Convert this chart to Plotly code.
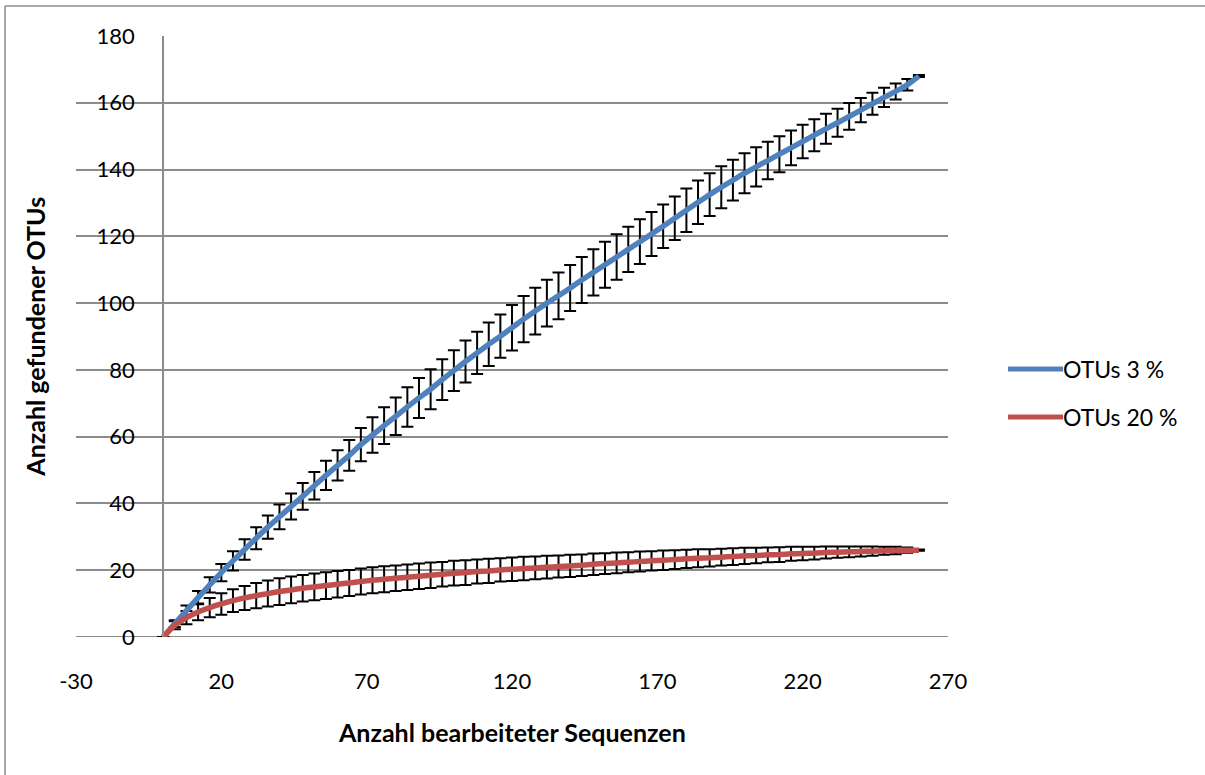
import plotly.graph_objects as go

# Rarefaction: number of processed sequences
sequenzen = list(range(0, 261, 4))

otus_3 = [
    0.0, 4.0, 7.9, 11.8, 15.6, 19.3, 22.8, 26.2, 29.6, 32.9,
    36.0, 39.1, 42.1, 45.3, 48.4, 51.4, 54.4, 57.6, 60.5, 63.3,
    66.1, 68.9, 71.6, 74.2, 77.1, 79.8, 82.5, 85.1, 87.7, 90.1,
    92.6, 95.2, 97.6, 100.0, 102.2, 104.5, 106.9, 109.2, 111.5, 113.8,
    116.1, 118.4, 120.7, 123.0, 125.4, 127.8, 130.2, 132.5, 134.7, 136.8,
    138.9, 140.8, 142.7, 144.6, 146.5, 148.4, 150.3, 152.2, 154.0, 155.9,
    157.8, 159.7, 161.6, 163.4, 165.4, 168.0,
]
fehler_3 = [
    0.0, 1.0, 1.5, 2.0, 2.3, 2.6, 2.9, 3.1, 3.3, 3.5,
    3.7, 3.9, 4.0, 4.1, 4.4, 4.5, 4.6, 5.0, 5.3, 5.5,
    5.6, 5.9, 6.0, 6.0, 6.1, 6.1, 6.3, 6.3, 6.5, 6.5,
    6.8, 6.9, 7.0, 7.0, 7.0, 6.9, 6.9, 6.9, 6.9, 6.8,
    6.8, 6.7, 6.6, 6.5, 6.5, 6.5, 6.5, 6.4, 6.3, 6.1,
    6.0, 5.9, 5.6, 5.4, 5.2, 5.0, 4.8, 4.5, 4.2, 4.0,
    3.6, 3.3, 2.9, 2.4, 1.7, 0.3,
]

otus_20 = [
    0.0, 3.5, 5.8, 7.5, 8.8, 9.9, 10.9, 11.7, 12.4, 13.0,
    13.6, 14.1, 14.6, 15.0, 15.4, 15.8, 16.2, 16.6, 17.0, 17.3,
    17.6, 17.9, 18.2, 18.5, 18.8, 19.1, 19.3, 19.6, 19.8, 20.1,
    20.3, 20.5, 20.7, 20.9, 21.1, 21.3, 21.5, 21.8, 22.0, 22.2,
    22.4, 22.6, 22.8, 23.0, 23.2, 23.4, 23.6, 23.7, 23.9, 24.1,
    24.3, 24.4, 24.6, 24.7, 24.9, 25.0, 25.1, 25.3, 25.4, 25.5,
    25.6, 25.7, 25.8, 25.9, 26.0, 26.0,
]
fehler_20 = [
    0.0, 1.2, 2.0, 2.5, 2.9, 3.2, 3.4, 3.6, 3.8, 3.9,
    4.0, 4.0, 4.0, 4.0, 4.0, 4.0, 3.9, 3.9, 3.9, 3.9,
    3.8, 3.8, 3.8, 3.8, 3.7, 3.7, 3.7, 3.6, 3.6, 3.5,
    3.5, 3.5, 3.4, 3.4, 3.3, 3.3, 3.2, 3.2, 3.1, 3.1,
    3.0, 3.0, 2.9, 2.9, 2.8, 2.7, 2.7, 2.6, 2.5, 2.5,
    2.4, 2.3, 2.2, 2.2, 2.1, 2.0, 1.9, 1.8, 1.7, 1.6,
    1.5, 1.4, 1.2, 1.1, 0.8, 0.2,
]

serien = [
    ("OTUs 3 %", otus_3, fehler_3, "#4F81BD"),
    ("OTUs 20 %", otus_20, fehler_20, "#C0504D"),
]

x_ticks = [-30, 20, 70, 120, 170, 220, 270]
y_ticks = list(range(0, 181, 20))

GRID = "#8C8C8C"
FONT = "Lato, Calibri, Arial, sans-serif"
TICK_SIZE = 22
TITLE_SIZE = 25

fig = go.Figure()

# error bars first, so the smoothed lines sit on top of them
for name, werte, fehler, farbe in serien:
    fig.add_trace(go.Scatter(
        x=sequenzen, y=werte, mode="markers",
        marker=dict(size=0.1, color="rgba(0,0,0,0)"),
        error_y=dict(type="data", array=fehler, visible=True,
                     color="black", thickness=2, width=6),
        showlegend=False, hoverinfo="skip",
    ))
for name, werte, fehler, farbe in serien:
    fig.add_trace(go.Scatter(
        x=sequenzen, y=werte, mode="lines", name=name,
        line=dict(color=farbe, width=5.5, shape="spline", smoothing=0.6),
        showlegend=False,
    ))

fig.update_layout(
    width=1205, height=775,
    margin=dict(l=76, r=257, t=36, b=138),
    paper_bgcolor="white", plot_bgcolor="white",
    font=dict(family=FONT, size=TICK_SIZE, color="black"),
    showlegend=False,
)

fig.update_xaxes(
    range=[-30, 270], tickvals=x_ticks, ticktext=[str(v) for v in x_ticks],
    showgrid=False, zeroline=False, showline=False,
    ticks="", ticklabelstandoff=29,
    tickfont=dict(family=FONT, size=TICK_SIZE),
)
fig.update_yaxes(
    range=[0, 180], tickvals=y_ticks,
    showgrid=True, gridcolor=GRID, gridwidth=2,
    zeroline=False, showline=True, linecolor=GRID, linewidth=2,
    anchor="free", position=(0 - (-30)) / 300,
    ticks="", ticklabelstandoff=23,
    tickfont=dict(family=FONT, size=TICK_SIZE),
)

# bottom gridline at y = 0 across the full width
fig.add_shape(type="line", xref="paper", yref="y", x0=0, x1=1, y0=0, y1=0,
              line=dict(color=GRID, width=2), layer="below")

# axis titles
fig.add_annotation(text="<b>Anzahl bearbeiteter Sequenzen</b>", xref="paper", yref="paper",
                   x=0.5, y=-0.158, showarrow=False, font=dict(family=FONT, size=TITLE_SIZE),
                   xanchor="center", yanchor="middle")
fig.add_annotation(text="<b>Anzahl gefundener OTUs</b>", xref="paper", yref="paper",
                   x=-0.048, y=0.5, showarrow=False, textangle=-90,
                   font=dict(family=FONT, size=TITLE_SIZE), xanchor="center", yanchor="middle")

# legend drawn beside the plot
leg_y = [0.4459, 0.3661]
for (name, werte, fehler, farbe), ly in zip(serien, leg_y):
    fig.add_shape(type="line", xref="paper", yref="paper",
                  x0=1.0688, x1=1.1319, y0=ly, y1=ly,
                  line=dict(color=farbe, width=5))
    fig.add_annotation(text=name, xref="paper", yref="paper", x=1.1319, y=ly,
                       showarrow=False, xanchor="left", yanchor="middle",
                       font=dict(family=FONT, size=23), xshift=-2)

# chart frame (left and top edges)
fig.add_shape(type="line", xref="paper", yref="paper", x0=-0.0814, x1=-0.0814,
              y0=1.0499, y1=-0.3, line=dict(color="#8C8C8C", width=1.5))
fig.add_shape(type="line", xref="paper", yref="paper", x0=-0.0814, x1=1.4,
              y0=1.0499, y1=1.0499, line=dict(color="#8C8C8C", width=1.5))

fig.write_html("out.html")
